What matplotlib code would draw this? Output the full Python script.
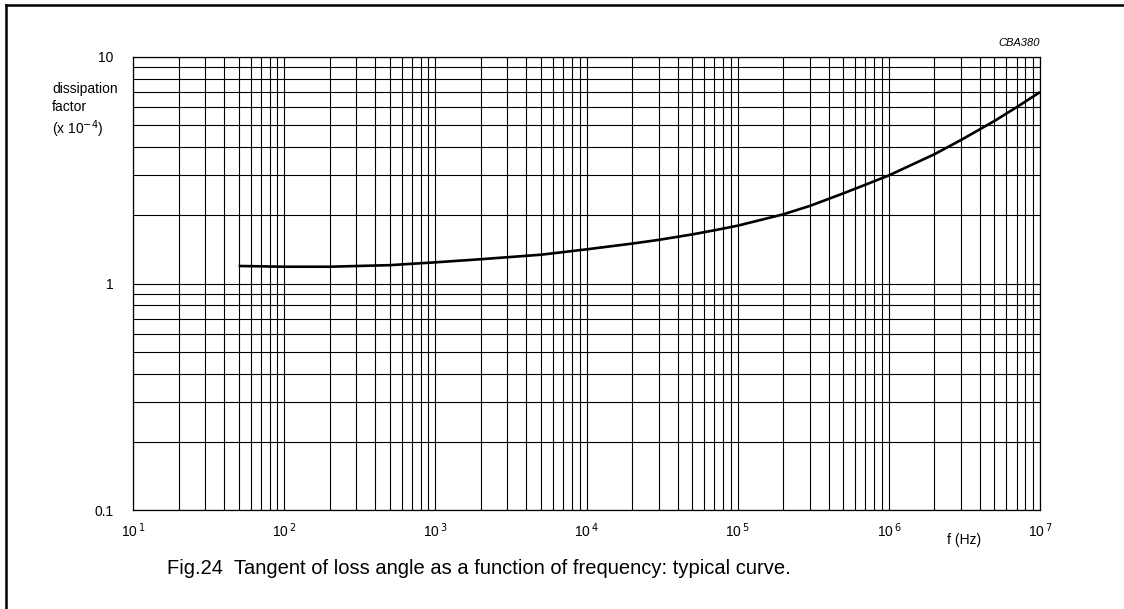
"""
plot.py
Dissipation factor (tan delta) vs frequency, log-log datasheet style.
"""
import matplotlib
matplotlib.use("Agg")
import matplotlib.pyplot as plt
from matplotlib.lines import Line2D
from matplotlib.ticker import FixedLocator, NullFormatter

# --- data ------------------------------------------------------------------
freq_hz = [50, 100, 200, 500, 1e3, 2e3, 5e3, 1e4, 2e4, 3e4, 5e4, 7e4, 1e5,
           2e5, 3e5, 5e5, 7e5, 1e6, 2e6, 3e6, 5e6, 7e6, 1e7]
dissipation = [1.195, 1.186, 1.186, 1.205, 1.24, 1.28, 1.34, 1.415, 1.50,
               1.558, 1.647, 1.717, 1.80, 2.02, 2.20, 2.50, 2.73, 3.00,
               3.72, 4.30, 5.22, 6.00, 7.00]

x_ticks = [1e1, 1e2, 1e3, 1e4, 1e5, 1e6, 1e7]
x_tick_labels = [r"10$^{\,%d}$" % e for e in range(1, 8)]
y_ticks = [0.1, 1, 10]
y_tick_labels = ["0.1", "1", "10"]

caption = "Fig.24  Tangent of loss angle as a function of frequency: typical curve."

plt.rcParams["font.family"] = ["Liberation Sans", "DejaVu Sans"]

W, H = 1124, 609
fig = plt.figure(figsize=(W / 100, H / 100), dpi=100)
ax = fig.add_axes([133 / W, 1 - 510 / H, (1040 - 133) / W, (510 - 57) / H])

ax.set_xscale("log")
ax.set_yscale("log")
ax.set_xlim(10, 1e7)
ax.set_ylim(0.1, 10)

# full decade + sub-decade grid, drawn as plain lines
minors_x = [m * 10 ** e for e in range(1, 7) for m in range(2, 10)]
minors_y = [m * 10 ** e for e in (-1, 0) for m in range(2, 10)]
for v in x_ticks + minors_x:
    ax.axvline(v, color="black", lw=0.8, zorder=1)
for v in y_ticks + minors_y:
    ax.axhline(v, color="black", lw=0.8, zorder=1)

ax.plot(freq_hz, dissipation, color="black", lw=1.9, zorder=3,
        solid_capstyle="butt", solid_joinstyle="round")

ax.xaxis.set_major_locator(FixedLocator(x_ticks))
ax.yaxis.set_major_locator(FixedLocator(y_ticks))
ax.xaxis.set_minor_formatter(NullFormatter())
ax.yaxis.set_minor_formatter(NullFormatter())
ax.set_xticklabels(x_tick_labels)
ax.set_yticklabels(y_tick_labels)
ax.tick_params(which="both", length=0, labelsize=10)
ax.tick_params(axis="x", pad=8)
ax.tick_params(axis="y", pad=14)
for s in ax.spines.values():
    s.set_linewidth(0.9)

# axis labels placed like the datasheet
fig.text(52 / W, 1 - 111 / H, "dissipation\nfactor\n(x 10$^{-4}$)", fontsize=10,
         ha="left", va="center", linespacing=1.3)
fig.text(964 / W, 1 - 540 / H, "f (Hz)", fontsize=10, ha="center", va="center")
fig.text(1040 / W, 1 - 43 / H, "CBA380", fontsize=8, style="italic",
         ha="right", va="center")
fig.text(167 / W, 1 - 569 / H, caption, fontsize=14.5, ha="left", va="center")

# outer frame: left and top edges only
fig.add_artist(Line2D([5.5 / W, 5.5 / W], [0, 1 - 5 / H], color="black", lw=1.8,
                      transform=fig.transFigure, solid_capstyle="projecting"))
fig.add_artist(Line2D([5.5 / W, 1], [1 - 5 / H, 1 - 5 / H], color="black", lw=1.8,
                      transform=fig.transFigure, solid_capstyle="projecting"))

fig.savefig("out.png", dpi=100)
